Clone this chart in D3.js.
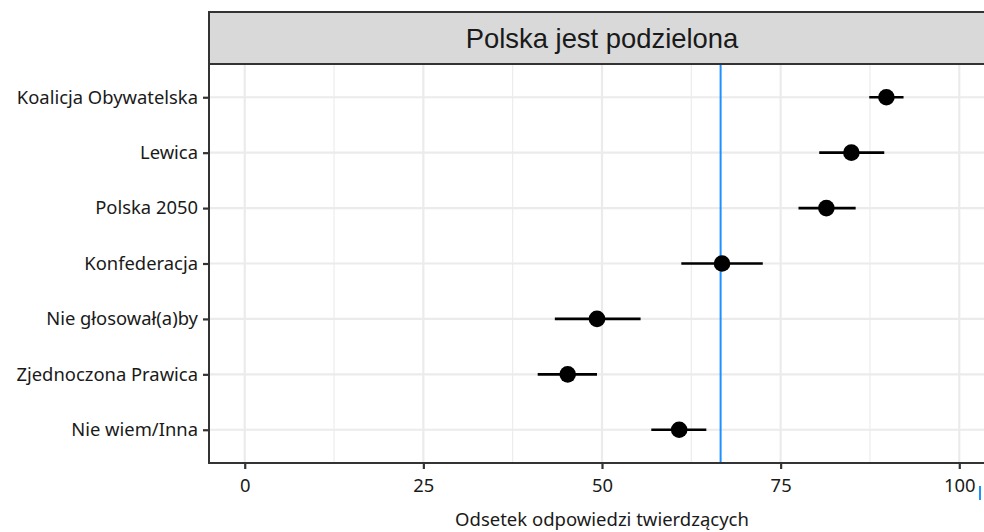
<!DOCTYPE html>
<html>
<head>
<meta charset="utf-8">
<script src="https://cdn.jsdelivr.net/npm/d3@7"></script>
<style>
  body { margin: 0; background: white; }
  svg { display: block; }
</style>
</head>
<body>
<div id="chart"></div>
<script>
// data
var parties = ["Koalicja Obywatelska", "Lewica", "Polska 2050", "Konfederacja",
               "Nie głosował(a)by", "Zjednoczona Prawica", "Nie wiem/Inna"];
var share = [89.8, 84.9, 81.4, 66.8, 49.3, 45.2, 60.8];
var lower = [87.4, 80.4, 77.5, 61.1, 43.4, 41.0, 56.9];
var upper = [92.2, 89.5, 85.5, 72.5, 55.4, 49.3, 64.6];
var overall = 66.6;
var xTicks = [0, 25, 50, 75, 100];
var facetTitle = "Polska jest podzielona";
var xTitle = "Odsetek odpowiedzi twierdzących";

var w = 984, h = 532;
var margin = {top: 64, right: -11, bottom: 69, left: 209};
var innerW = w - margin.left - margin.right;
var innerH = h - margin.top - margin.bottom;

var svg = d3.select("#chart").append("svg")
    .attr("width", w)
    .attr("height", h);

var rows = parties.map(function(p, i) {
  return {party: p, est: share[i], lo: lower[i], hi: upper[i]};
});

var x = d3.scaleLinear().domain([-5, 105]).range([0, innerW]);
var y = d3.scalePoint().domain(parties).range([0, innerH]).padding(0.6);

var g = svg.append("g")
    .attr("transform", `translate(${margin.left},${margin.top})`);

// grid
var minor = d3.range(12.5, 100, 25);
g.selectAll(".minor").data(minor).enter().append("line")
    .attr("x1", d => x(d)).attr("x2", d => x(d))
    .attr("y1", 0).attr("y2", innerH)
    .attr("stroke", "#ebebeb").attr("stroke-width", 1.1);
g.selectAll(".major").data(xTicks).enter().append("line")
    .attr("x1", d => x(d)).attr("x2", d => x(d))
    .attr("y1", 0).attr("y2", innerH)
    .attr("stroke", "#ebebeb").attr("stroke-width", 2.2);
g.selectAll(".hgrid").data(parties).enter().append("line")
    .attr("x1", 0).attr("x2", innerW)
    .attr("y1", d => y(d)).attr("y2", d => y(d))
    .attr("stroke", "#ebebeb").attr("stroke-width", 2.2);

// reference line
g.append("line")
    .attr("x1", x(overall)).attr("x2", x(overall))
    .attr("y1", 0).attr("y2", innerH)
    .attr("stroke", "#1e90ff").attr("stroke-width", 2);

// error bars + points
g.selectAll(".err").data(rows).enter().append("line")
    .attr("x1", d => x(d.lo)).attr("x2", d => x(d.hi))
    .attr("y1", d => y(d.party)).attr("y2", d => y(d.party))
    .attr("stroke", "black").attr("stroke-width", 2.6);
g.selectAll(".pt").data(rows).enter().append("circle")
    .attr("cx", d => x(d.est)).attr("cy", d => y(d.party))
    .attr("r", 8.3).attr("fill", "black");

// panel border
g.append("rect")
    .attr("x", 0).attr("y", 0).attr("width", innerW).attr("height", innerH)
    .attr("fill", "none").attr("stroke", "#333333").attr("stroke-width", 2);

// strip
var strip = svg.append("g").attr("transform", `translate(${margin.left},12)`);
strip.append("rect")
    .attr("width", innerW).attr("height", margin.top - 12)
    .attr("fill", "#d9d9d9").attr("stroke", "#333333").attr("stroke-width", 2);
strip.append("text")
    .attr("x", innerW / 2).attr("y", 36)
    .attr("text-anchor", "middle")
    .style("font-family", "Liberation Sans, Arial, sans-serif")
    .style("font-size", "27.4px")
    .attr("fill", "#1a1a1a")
    .text(facetTitle);

// axes
var xAxis = d3.axisBottom(x).tickValues(xTicks).tickSize(6).tickPadding(6);
var gx = g.append("g").attr("transform", `translate(0,${innerH})`).call(xAxis);
var yAxis = d3.axisLeft(y).tickSize(6).tickPadding(5);
var gy = g.append("g").call(yAxis);

[gx, gy].forEach(function(ax) {
  ax.select(".domain").remove();
  ax.selectAll(".tick line").attr("stroke", "#333333").attr("stroke-width", 2.2);
  ax.selectAll(".tick text")
    .style("font-family", "Noto Sans, Open Sans, sans-serif")
    .style("font-size", "18.4px")
    .attr("fill", "#1a1a1a");
});
gx.selectAll(".tick text").attr("dy", "0.95em");

svg.append("text")
    .attr("x", margin.left + x(50)).attr("y", 526)
    .attr("text-anchor", "middle")
    .style("font-family", "Noto Sans, Open Sans, sans-serif")
    .style("font-size", "18.5px")
    .attr("fill", "#1a1a1a")
    .text(xTitle);

// legend key peeking in from the right edge
svg.append("line")
    .attr("x1", 980).attr("x2", 980).attr("y1", 486).attr("y2", 500)
    .attr("stroke", "#1e90ff").attr("stroke-width", 2);
</script>
</body>
</html>
